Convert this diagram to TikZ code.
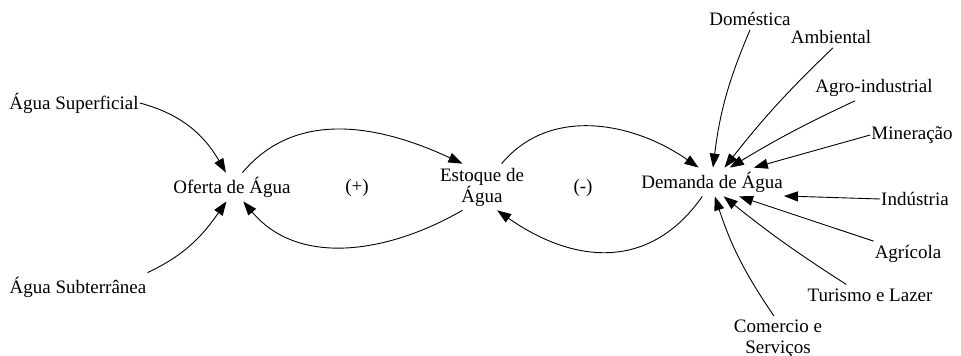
\documentclass[tikz,border=0pt]{standalone}
\usepackage{fontspec}
\setmainfont{Liberation Serif}
\usetikzlibrary{arrows.meta}

\begin{document}
\begin{tikzpicture}[x=1pt,y=1pt,
 var/.style={inner xsep=1pt,inner ysep=4pt,align=center,font=\fontsize{19}{21}\selectfont},
 sign/.style={font=\fontsize{19}{21}\selectfont},
 arr/.style={-{Triangle[length=14pt,width=10pt]},line width=0.9pt}]
\useasboundingbox (0,0) rectangle (961,356);
% variaveis centrais
\node[var] (ofe) at (232,169) {Oferta de Água};
\node[var] (est) at (482,169) {Estoque de\\Água};
\node[var] (dem) at (712,174) {Demanda de Água};
\node[sign] (pos) at (357,168) {(+)};
\node[sign] (neg) at (583,168) {(-)};
% fontes e usos
\node[var] (sup) at (74,253) {Água Superficial};
\node[var] (sub) at (78,69) {Água Subterrânea};
\node[var] (dom) at (750,337) {Doméstica};
\node[var] (amb) at (831,319) {Ambiental};
\node[var] (agr) at (874,268) {Agro-industrial};
\node[var] (mnr) at (912,221) {Mineração};
\node[var] (ind) at (915,157) {Indústria};
\node[var] (agri) at (908,102) {Agrícola};
\node[var] (tur) at (870,61) {Turismo e Lazer};
\node[var] (com) at (778,17) {Comercio e\\Serviços};
% laços
\draw[arr] (ofe.54) to[out=50,in=155] (est.130);
\draw[arr] (est.230) to[out=-150,in=-50] (ofe.308);
\draw[arr] (est.50) to[out=50,in=145] (dem.133);
\draw[arr] (dem.236) to[out=-125,in=-35,looseness=1.15] (est.303);
% entradas
\draw[arr] (sup.east) to[out=-15,in=120] (ofe.113);
\draw[arr] (sub.north east) to[out=25,in=-125] (ofe.249);
\draw[arr] (dom.south) to[bend right=8] (dem.86);
\draw[arr] (amb.-80) to[bend right=4] (dem.49);
\draw[arr] (agr.-146) to[bend right=3] (dem.39);
\draw[arr] (mnr.west) -- (dem.19);
\draw[arr] (ind.west) -- (dem.-11);
\draw[arr] (agri.north west) -- (dem.-28);
\draw[arr] (tur.156) to[bend left=3] (dem.-51);
\draw[arr] (com.100) to[bend left=8] (dem.-79);
\end{tikzpicture}
\end{document}
